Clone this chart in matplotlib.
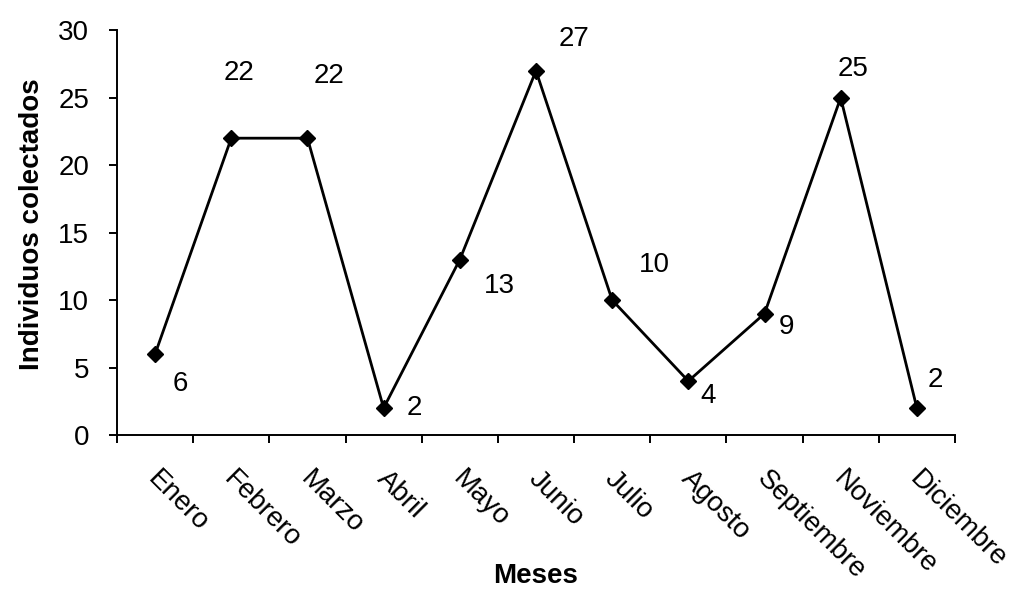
import numpy as np
import matplotlib.pyplot as plt
import matplotlib.transforms as mtransforms

plt.rcParams['font.family'] = ['Liberation Sans', 'DejaVu Sans']

meses = ["Enero", "Febrero", "Marzo", "Abril", "Mayo", "Junio", "Julio",
         "Agosto", "Septiembre", "Noviembre", "Diciembre"]
individuos = [6, 22, 22, 2, 13, 27, 10, 4, 9, 25, 2]

# label offsets in pixels (dx, dy) relative to each point
offsets = [(25, -30), (8, 65), (22, 62), (31, 0), (40, -26), (38, 32),
           (42, 35), (20, -15), (22, -13), (12, 29), (18, 28)]

fig = plt.figure(figsize=(10.13, 5.93), dpi=100)
ax = fig.add_axes([0.1155, 0.2664, 0.8272, 0.6826])

x = np.arange(len(meses))
ax.plot(x, individuos, color='black', lw=2.0, marker='D', markersize=8,
        markerfacecolor='black')

for xi, yi, (dx, dy) in zip(x, individuos, offsets):
    ax.annotate(str(yi), (xi, yi), xytext=(dx * 0.72, dy * 0.72),
                textcoords='offset points', ha='center', va='center',
                fontsize=20)

ax.set_xlim(-0.5, len(meses) - 0.5)
ax.set_ylim(0, 30)
ax.set_yticks(np.arange(0, 31, 5))
ax.tick_params(axis='y', labelsize=20, length=6, width=1.4, direction='out', pad=14)

ax.set_xticks(x)
ax.set_xticklabels(meses, rotation=-45, ha='left', va='top',
                   rotation_mode='anchor', fontsize=20)
ax.tick_params(axis='x', which='major', length=0, pad=22)
ax.set_xticks(np.arange(-0.5, len(meses), 1), minor=True)
ax.tick_params(axis='x', which='minor', length=6, width=1.4, direction='out')

shift = mtransforms.ScaledTranslation(6 / 100, 0, fig.dpi_scale_trans)
for lbl in ax.get_xticklabels():
    lbl.set_transform(lbl.get_transform() + shift)

for s in ['top', 'right']:
    ax.spines[s].set_visible(False)
for s in ['left', 'bottom']:
    ax.spines[s].set_linewidth(1.4)

ax.set_ylabel("Individuos colectados", fontsize=20, fontweight='bold')
ax.yaxis.set_label_coords(-0.086, 0.52)
fig.text(0.529, 0.028, "Meses", fontsize=20, fontweight='bold', ha='center', va='center')

fig.savefig("out.png", dpi=100)
